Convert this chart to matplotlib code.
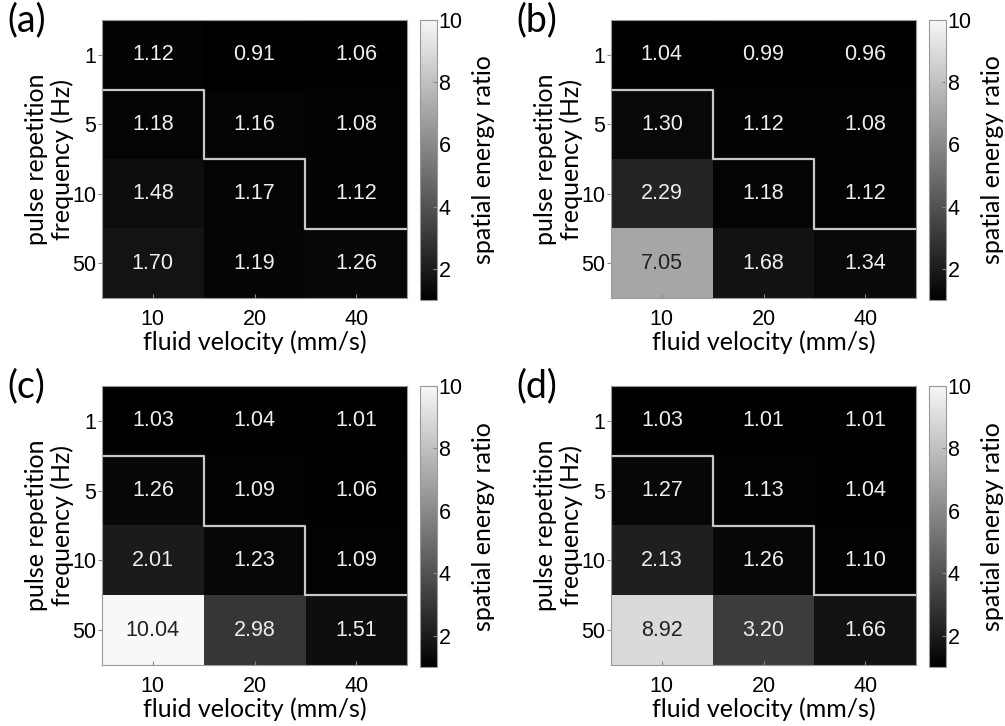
import numpy as np
import matplotlib.pyplot as plt

# Data: rows = pulse repetition frequency, cols = fluid velocity
velocities = ['10', '20', '40']
frequencies = ['1', '5', '10', '50']
panel_labels = ['(a)', '(b)', '(c)', '(d)']

ratio_a = [[1.12, 0.91, 1.06],
           [1.18, 1.16, 1.08],
           [1.48, 1.17, 1.12],
           [1.70, 1.19, 1.26]]
ratio_b = [[1.04, 0.99, 0.96],
           [1.30, 1.12, 1.08],
           [2.29, 1.18, 1.12],
           [7.05, 1.68, 1.34]]
ratio_c = [[1.03, 1.04, 1.01],
           [1.26, 1.09, 1.06],
           [2.01, 1.23, 1.09],
           [10.04, 2.98, 1.51]]
ratio_d = [[1.03, 1.01, 1.01],
           [1.27, 1.13, 1.04],
           [2.13, 1.26, 1.10],
           [8.92, 3.20, 1.66]]
panels = [ratio_a, ratio_b, ratio_c, ratio_d]

# staircase boundary (cell edges)
stair_x = [-0.5, 0.5, 0.5, 1.5, 1.5, 2.5]
stair_y = [0.5, 0.5, 1.5, 1.5, 2.5, 2.5]

vmin, vmax = 1, 10.3

fig = plt.figure(figsize=(10.05, 7.26), dpi=100)

W, H = 1005.0, 726.0
# pixel boxes: (left, top, right, bottom) for heatmap axes
boxes = [(102, 20, 407, 298), (611, 20, 916, 298),
         (102, 386, 407, 665), (611, 386, 916, 665)]

num_font = 'Liberation Sans'
lab_font = 'Lato'

for k, data in enumerate(panels):
    l, t, r, b = boxes[k]
    ax = fig.add_axes([l / W, 1 - b / H, (r - l) / W, (b - t) / H])
    arr = np.array(data)
    im = ax.imshow(arr, cmap='gray', vmin=vmin, vmax=vmax, aspect='auto',
                   interpolation='nearest')
    for i in range(arr.shape[0]):
        for j in range(arr.shape[1]):
            v = arr[i, j]
            col = '#222222' if v > 5 else '#eeeeee'
            ax.text(j, i, f'{v:.2f}', ha='center', va='center', color=col,
                    fontsize=15.5, family=num_font)
    ax.plot(stair_x, stair_y, color='#c8c8c8', lw=1.6)
    ax.set_xlim(-0.5, 2.5)
    ax.set_ylim(3.5, -0.5)
    ax.set_xticks(range(3))
    ax.set_xticklabels(velocities, family=num_font, fontsize=15.5)
    ax.set_yticks(range(4))
    ax.set_yticklabels(frequencies, family=num_font, fontsize=15.5)
    ax.tick_params(axis='x', direction='in', length=3, color='#888888', pad=8)
    ax.tick_params(axis='y', direction='out', length=3, color='#888888', pad=1)
    for s in ax.spines.values():
        s.set_color('#999999')
        s.set_linewidth(0.8)
    ax.set_xlabel('fluid velocity (mm/s)', family=lab_font, fontsize=18, labelpad=0)
    ax.set_ylabel('pulse repetition\nfrequency (Hz)', family=lab_font, fontsize=18,
                  linespacing=1.1, labelpad=-1)
    ax.text(-0.31, 1.0, panel_labels[k], transform=ax.transAxes, family=lab_font,
            fontsize=27, ha='left', va='center')

    # colorbar
    cax = fig.add_axes([(r + 13) / W, 1 - (b + 2) / H, 17 / W, (b + 2 - t) / H])
    cb = fig.colorbar(im, cax=cax, ticks=[2, 4, 6, 8, 10])
    cax.set_ylim(vmin, 10)
    cb.outline.set_edgecolor('#999999')
    cb.outline.set_linewidth(0.8)
    cax.tick_params(direction='in', length=3, color='#888888', pad=1,
                    labelsize=15.5)
    for lab in cax.get_yticklabels():
        lab.set_family(num_font)
    cb.set_label('spatial energy ratio', family=lab_font, fontsize=18, labelpad=7)

fig.savefig('out.png', dpi=100, facecolor='white')
